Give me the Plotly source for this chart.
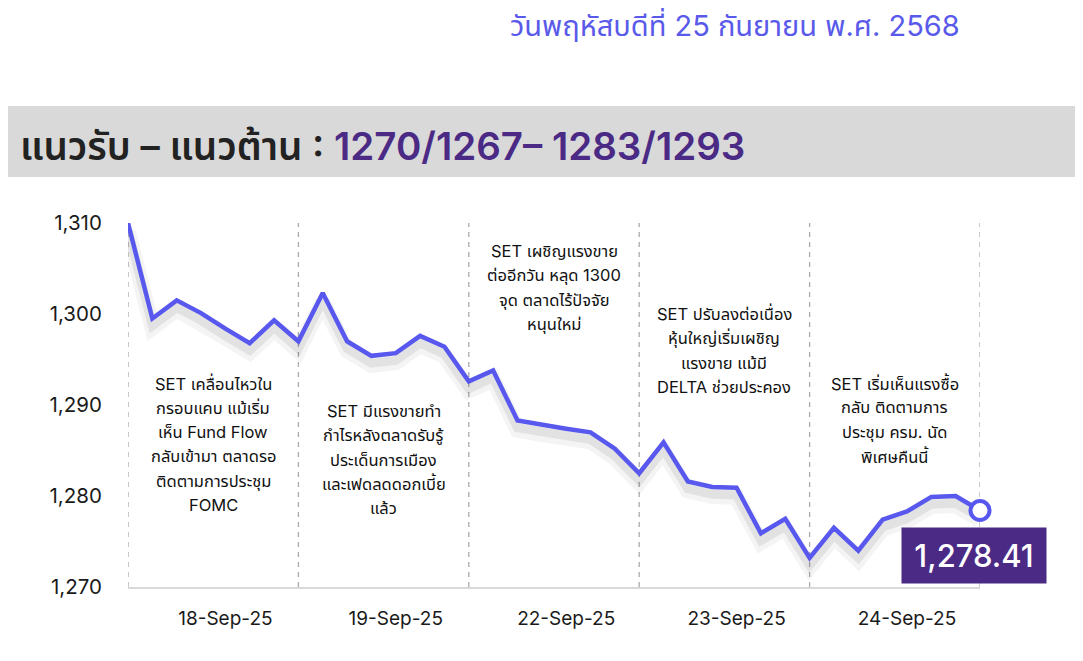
import plotly.graph_objects as go

# ---------------- data ----------------
set_index = [1310.0, 1299.5, 1301.5, 1300.1, 1298.4, 1296.8, 1299.3, 1297.0,
             1302.3, 1297.0, 1295.4, 1295.7, 1297.6, 1296.4, 1292.6,
             1293.8, 1288.3, 1287.8, 1287.4, 1287.0, 1285.2, 1282.5,
             1285.9, 1281.6, 1281.0, 1280.9, 1275.9, 1277.5, 1273.2,
             1276.5, 1274.0, 1277.4, 1278.3, 1279.9, 1280.0, 1278.41]
day_labels = ["18-Sep-25", "19-Sep-25", "22-Sep-25", "23-Sep-25", "24-Sep-25"]
y_ticks = [1270, 1280, 1290, 1300, 1310]
y_ticktext = ["1,270", "1,280", "1,290", "1,300", "1,310"]
last_value_text = "1,278.41"
date_title = "วันพฤหัสบดีที่ 25 กันยายน พ.ศ. 2568"
header_label = "แนวรับ – แนวต้าน : "
header_levels = "1270/1267– 1283/1293"
notes = [
    ["SET เคลื่อนไหวใน", "กรอบแคบ แม้เริ่ม", "เห็น Fund Flow", "กลับเข้ามา ตลาดรอ", "ติดตามการประชุม", "FOMC"],
    ["SET มีแรงขายทำ", "กำไรหลังตลาดรับรู้", "ประเด็นการเมือง", "และเฟดลดดอกเบี้ย", "แล้ว"],
    ["SET เผชิญแรงขาย", "ต่ออีกวัน หลุด 1300", "จุด ตลาดไร้ปัจจัย", "หนุนใหม่"],
    ["SET ปรับลงต่อเนื่อง", "หุ้นใหญ่เริ่มเผชิญ", "แรงขาย แม้มี", "DELTA ช่วยประคอง"],
    ["SET เริ่มเห็นแรงซื้อ", "กลับ ติดตามการ", "ประชุม ครม. นัด", "พิเศษคืนนี้"],
]

# ---------------- layout helpers (positions / styles) ----------------
pts_per_day = 7
x = list(range(len(set_index)))
note_y = [1285.7, 1284.0, 1302.9, 1296.0, 1288.4]
NOTE_LINE_GAP = 24.3

LINE = "#5858EE"
PURPLE = "#4A2A85"
FONT = "Inter, 'Noto Sans Thai', 'Noto Sans', sans-serif"
OFF = 8  # page body margin offset

PLOT_TOP, PLOT_BOT = 223, 587
PH = PLOT_BOT - PLOT_TOP
PLOT_L, PLOT_R = 128, 980
PW = PLOT_R - PLOT_L


def py(pix):
    return (PLOT_BOT - pix) / PH


def px(pix):
    return (pix - PLOT_L) / PW


fig = go.Figure()

# soft shadow under the line
fig.add_trace(go.Scatter(x=x, y=[v - 1.0 for v in set_index], mode="lines",
                         line=dict(color="rgba(0,0,0,0.045)", width=16),
                         hoverinfo="skip", showlegend=False))
fig.add_trace(go.Scatter(x=x, y=[v - 0.8 for v in set_index], mode="lines",
                         line=dict(color="rgba(0,0,0,0.07)", width=9),
                         hoverinfo="skip", showlegend=False))
# main line
fig.add_trace(go.Scatter(x=x, y=set_index, mode="lines",
                         line=dict(color=LINE, width=4.5),
                         showlegend=False, cliponaxis=False))
# end marker
fig.add_trace(go.Scatter(x=[x[-1]], y=[set_index[-1]], mode="markers",
                         marker=dict(size=19, color="white", line=dict(color=LINE, width=4)),
                         showlegend=False, cliponaxis=False))

shapes = []
for d in range(len(day_labels) + 1):
    shapes.append(dict(type="line", xref="x", yref="y", x0=d * pts_per_day, x1=d * pts_per_day,
                       y0=1270, y1=1310, line=dict(color="#ABABAB", width=1.3, dash="5px,5px"),
                       layer="below"))
# header band
shapes.append(dict(type="rect", xref="paper", yref="paper", x0=-0.3, x1=1.3,
                   y0=py(177), y1=py(106),
                   fillcolor="#D9D9D9", line=dict(width=0), layer="below"))

annotations = []
for i, lines in enumerate(notes):
    n = len(lines)
    for k, ln in enumerate(lines):
        annotations.append(dict(x=i * pts_per_day + 3.5, y=note_y[i], xref="x", yref="y",
                                text=ln, showarrow=False, align="center",
                                yshift=-(k - (n - 1) / 2) * NOTE_LINE_GAP,
                                font=dict(family=FONT, size=16.5, color="#111111")))
# last value box
annotations.append(dict(x=x[-1], y=set_index[-1], xref="x", yref="y", text=last_value_text,
                        showarrow=False, xshift=-6, yshift=-45, width=142, height=53,
                        bgcolor=PURPLE, font=dict(family=FONT, size=31, color="white", weight=500),
                        align="center", valign="middle"))
# date title
annotations.append(dict(x=px(962), y=py(25), xref="paper", yref="paper",
                        xanchor="right", yanchor="middle", text=date_title, showarrow=False,
                        font=dict(family=FONT, size=29, color="#5A5AEA")))
# header text
annotations.append(dict(x=px(18), y=py(146), xref="paper", yref="paper",
                        xanchor="left", yanchor="middle", showarrow=False,
                        text=f"{header_label}<span style='color:{PURPLE}'>{header_levels}</span>",
                        font=dict(family=FONT, size=38.5, color="#222222", weight=600)))

fig.update_layout(
    width=1083, height=661,
    margin=dict(l=PLOT_L - OFF, r=1083 + OFF - PLOT_R, t=PLOT_TOP - OFF, b=661 + OFF - PLOT_BOT),
    paper_bgcolor="white", plot_bgcolor="white",
    shapes=shapes, annotations=annotations,
    font=dict(family=FONT, color="#1a1a1a"),
    xaxis=dict(range=[0, len(set_index) - 1], showgrid=False, zeroline=False,
               tickmode="array", tickvals=[d * pts_per_day + 4 for d in range(len(day_labels))],
               ticktext=day_labels, ticks="outside", ticklen=13, tickcolor="rgba(0,0,0,0)",
               tickfont=dict(size=19, color="#1a1a1a"),
               showline=True, linecolor="#D9D9D9", linewidth=2),
    yaxis=dict(range=[1270, 1310], showgrid=False, zeroline=False,
               tickmode="array", tickvals=y_ticks, ticktext=y_ticktext,
               ticks="outside", ticklen=21, tickcolor="rgba(0,0,0,0)",
               tickfont=dict(size=20.5, color="#1a1a1a"), showline=False),
)

fig.write_html("out.html")
